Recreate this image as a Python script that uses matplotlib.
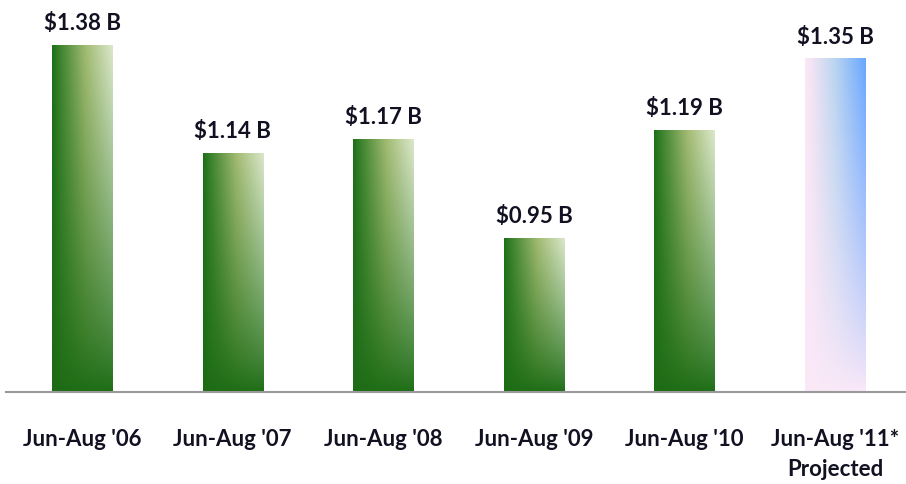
import matplotlib
matplotlib.use("Agg")
import matplotlib.pyplot as plt
import numpy as np
from matplotlib.colors import to_rgb

categories = ["Jun-Aug '06", "Jun-Aug '07", "Jun-Aug '08", "Jun-Aug '09", "Jun-Aug '10", "Jun-Aug '11*\nProjected"]
values = [1.38, 1.14, 1.17, 0.95, 1.19, 1.35]
labels = ["$1.38 B", "$1.14 B", "$1.17 B", "$0.95 B", "$1.19 B", "$1.35 B"]
base = 0.607  # value axis does not start at zero

plt.rcParams['font.family'] = ['Lato', 'DejaVu Sans']


def gradient(top_stops, bottom, n=200):
    # horizontal gradient at top, fading into a flat colour towards the bottom
    t = np.linspace(0, 1, n)
    pos = [p for p, c in top_stops]
    cols = np.array([to_rgb(c) for p, c in top_stops])
    row = np.stack([np.interp(t, pos, cols[:, k]) for k in range(3)], axis=1)
    s = np.linspace(1, 0, n)[:, None, None] ** 0.8
    bot = np.array(to_rgb(bottom))[None, None, :]
    img = bot + (row[None, :, :] - bot) * s
    return np.clip(img, 0, 1)


green = gradient([(0, '#1c7016'), (0.12, '#3a822d'), (0.55, '#a2bb72'), (1, '#dce8cc')], '#1d6c15')
blue = gradient([(0, '#fbe8f8'), (0.1, '#f4e4f4'), (0.5, '#b8d4f0'), (1, '#68a6ff')], '#fbe9f8')

fig = plt.figure(figsize=(9.06, 4.85), dpi=100)
ax = fig.add_axes([6 / 906, 92 / 485, 900 / 906, 393 / 485])

x = np.arange(len(values))
bars = ax.bar(x, [v - base for v in values], width=0.4, bottom=base, color='none', edgecolor='none')

for i, b in enumerate(bars):
    img = blue if i == len(bars) - 1 else green
    x0, y0 = b.get_x(), b.get_y()
    im = ax.imshow(img, extent=[x0, x0 + b.get_width(), y0, y0 + b.get_height()],
                   aspect='auto', zorder=2, interpolation='bilinear')
    im.set_clip_path(b)
    ax.text(b.get_x() + b.get_width() / 2, values[i] + 0.026, labels[i],
            ha='center', va='bottom', fontsize=16, fontweight='bold', color='#111122')

ax.set_xlim(-0.505, 5.47)
ax.set_ylim(base, 1.482)
ax.set_xticks(x)
ax.set_xticklabels(categories, fontsize=16, fontweight='bold', color='#111122', linespacing=1.5)
ax.tick_params(axis='x', length=0, pad=26)
ax.set_yticks([])
for side in ['top', 'right', 'left']:
    ax.spines[side].set_visible(False)
ax.spines['bottom'].set_color('#999999')
ax.spines['bottom'].set_linewidth(1.5)
ax.spines['bottom'].set_zorder(3)

fig.savefig('out.png', dpi=100)
